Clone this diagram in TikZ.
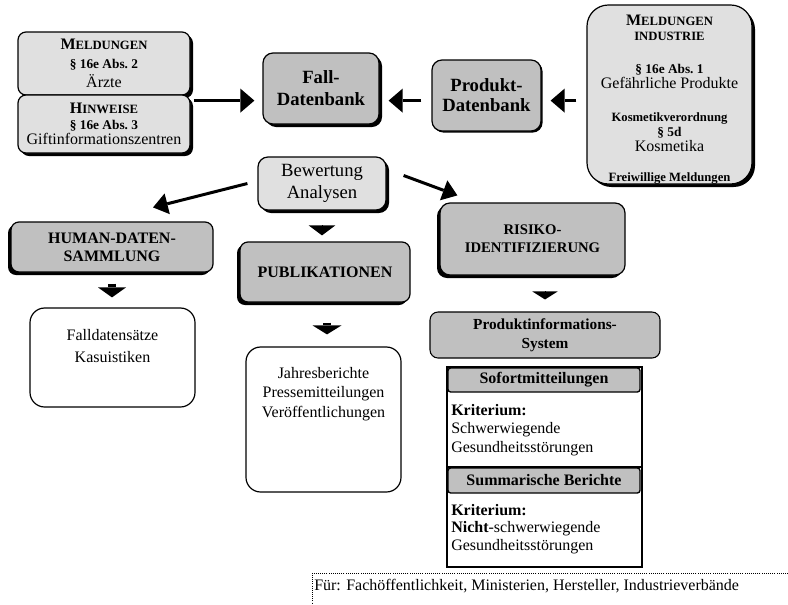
\documentclass[tikz,border=0pt]{standalone}
\usepackage{fontspec}
\setmainfont{Liberation Serif}
\usetikzlibrary{arrows.meta,shadows,calc}
\definecolor{lightg}{HTML}{E0E0E0}
\definecolor{darkg}{HTML}{C0C0C0}
\begin{document}
\begin{tikzpicture}[x=0.75pt,y=-0.75pt,
  box/.style={draw, line width=0.9pt, rounded corners=6pt, inner sep=0pt, align=center},
  lightbox/.style={box, fill=lightg},
  darkbox/.style={box, fill=darkg},
  whitebox/.style={box, fill=white, rounded corners=11pt},
  shR/.style={drop shadow={shadow xshift=2.25pt, shadow yshift=-2.25pt, fill=black, opacity=1}},
  shL/.style={drop shadow={shadow xshift=-2.25pt, shadow yshift=-2.25pt, fill=black, opacity=1}},
  hdr/.style={draw, line width=1pt, rounded corners=2pt, fill=darkg, inner sep=0pt,
    minimum width=144pt, font=\fontsize{12}{14}\selectfont\bfseries},
  txt/.style={inner sep=0pt, align=center},
  bigarrow/.style={line width=2.5pt, -{Triangle[length=10.5pt,width=18pt,line width=0pt]}},
  diagarrow/.style={line width=2.25pt, -{Triangle[length=11pt,width=16pt,line width=0pt]}}
]
\useasboundingbox (0,0) rectangle (788,604);

% left sources
\node[lightbox, shR, minimum width=129pt, minimum height=47.25pt,
  font=\fontsize{12}{14}\selectfont] (meld) at (104,63.5)
  {\textbf{M{\fontsize{9.5}{14}\selectfont ELDUNGEN}}\\
   {\bfseries\fontsize{10}{14}\selectfont \S~16e Abs.~2}\\
   Ärzte};
\node[lightbox, shR, minimum width=129pt, minimum height=43.5pt,
  font=\fontsize{12}{11.75}\selectfont] (hinw) at (104,124)
  {\textbf{H{\fontsize{9.5}{11.75}\selectfont INWEISE}}\\
   {\bfseries\fontsize{10}{11.75}\selectfont \S~16e Abs.~3}\\
   Giftinformationszentren};

% databases
\node[darkbox, shR, rounded corners=7.5pt, minimum width=87pt, minimum height=53.25pt,
  font=\fontsize{14}{16.5}\selectfont\bfseries] (fall) at (321,88.5) {Fall-\\Datenbank};
\node[darkbox, drop shadow={shadow xshift=1.2pt, shadow yshift=-1.2pt, fill=black, opacity=1},
  rounded corners=7.5pt, minimum width=81.75pt, minimum height=53.25pt,
  font=\fontsize{14}{15}\selectfont\bfseries] (prod) at (486.5,95.5) {Produkt-\\Datenbank};

% industry box
\node[lightbox, shR, rounded corners=16pt, minimum width=123.75pt, minimum height=134.25pt]
  (indu) at (669.5,94.5) {};
\node[txt, anchor=north, font=\fontsize{12}{11.25}\selectfont] (indut) at (669.5,15)
  {\textbf{M{\fontsize{9.5}{11.25}\selectfont ELDUNGEN}}\\
   {\bfseries\fontsize{9.5}{11.25}\selectfont INDUSTRIE}\\[13.5pt]
   {\bfseries\fontsize{10}{11.25}\selectfont \S~16e Abs.~1}\\
   Gefährliche Produkte\\[13pt]
   {\bfseries\fontsize{9.5}{11.25}\selectfont Kosmetikverordnung}\\
   {\bfseries\fontsize{10}{11.25}\selectfont \S~5d}\\[0.5pt]
   Kosmetika\\[11pt]
   {\bfseries\fontsize{9.5}{11.25}\selectfont Freiwillige Meldungen}};

% evaluation
\node[lightbox, shR, rounded corners=7.5pt, minimum width=96pt, minimum height=39.75pt,
  font=\fontsize{14}{17}\selectfont] (bew) at (322,183.5) {Bewertung\\Analysen};

% outputs
\node[darkbox, shL, minimum width=151.5pt, minimum height=37.5pt,
  font=\fontsize{12}{13.5}\selectfont\bfseries] (hum) at (112,247) {HUMAN-DATEN-\\SAMMLUNG};
\node[whitebox, minimum width=123.75pt, minimum height=74.25pt] (fdat) at (112.5,357.5) {};
\node[txt, anchor=north, font=\fontsize{12}{16.5}\selectfont] (fdatt) at (112.5,329)
  {Falldatensätze\\Kasuistiken};

\node[darkbox, shL, minimum width=127.5pt, minimum height=45pt,
  font=\fontsize{12}{14}\selectfont\bfseries] (pub) at (325,272) {PUBLIKATIONEN};
\node[whitebox, minimum width=116.25pt, minimum height=108.75pt] (jahr) at (323.5,419.5) {};
\node[txt, anchor=north, font=\fontsize{12}{14.5}\selectfont] (jahrt) at (323.5,367)
  {Jahresberichte\\Pressemitteilungen\\Veröffentlichungen};

\node[darkbox, shL, rounded corners=7.5pt, minimum width=138.75pt, minimum height=54pt,
  font=\fontsize{11}{13.5}\selectfont\bfseries] (ris) at (532.5,239) {RISIKO-\\IDENTIFIZIERUNG};
\node[darkbox, line width=0.8pt, minimum width=172.5pt, minimum height=34.5pt,
  font=\fontsize{11.5}{14.25}\selectfont\bfseries] (pis) at (545,335)
  {Produktinformations-\\System};

% panel
\node[draw, line width=0.8pt, fill=white, inner sep=0pt, minimum width=146.25pt,
  minimum height=150pt] (panel) at (544.5,467) {};
\node[hdr, minimum height=18pt] (sof) at (544,380) {Sofortmitteilungen};
\node[txt, anchor=north west, align=left, font=\fontsize{12}{13.9}\selectfont] (k1) at (451,404)
  {\textbf{Kriterium:}\\Schwerwiegende\\Gesundheitsstörungen};
\draw[line width=0.8pt] (panel.west |- 0,467) coordinate (dl) -- (panel.east |- dl);
\node[hdr, minimum height=18.75pt] (summ) at (544,480.5) {Summarische Berichte};
\node[txt, anchor=north west, align=left, font=\fontsize{12}{13.2}\selectfont] (k2) at (451,504)
  {\textbf{Kriterium:}\\\textbf{Nicht}-schwerwiegende\\Gesundheitsstörungen};

% footer
\coordinate (fc) at (312,573);
\coordinate (fr) at (788,573);
\coordinate (fb) at (312,604);
\draw[densely dotted, line width=0.6pt] (fr) -- (fc) -- (fb);
\node[txt, anchor=west, font=\fontsize{12}{14}\selectfont] (foot) at (314,586)
  {Für: Fachöffentlichkeit, Ministerien, Hersteller, Industrieverbände};

% arrows
\coordinate (a1s) at ([xshift=2.25pt, yshift=-3.75pt]meld.south east);
\draw[bigarrow, shorten >=6pt] (a1s) -- (a1s -| fall.west);
\draw[bigarrow, shorten <=7.5pt, shorten >=6.75pt] (prod.west |- a1s) -- (fall.east |- a1s);
\draw[bigarrow, shorten <=7.5pt, shorten >=6.75pt] (indu.west |- a1s) -- (prod.east |- a1s);

\draw[diagarrow] ([xshift=-7.5pt]bew.west) -- ([xshift=30.75pt,yshift=10.5pt]hum.north);
\draw[diagarrow] ([xshift=12.75pt,yshift=6pt]bew.east) -- ([xshift=13.5pt,yshift=5.25pt]ris.north west);

\draw[line width=0.4pt, -{Triangle[length=7.5pt,width=20pt,line width=0pt]},
  shorten <=12pt, shorten >=4.5pt] (bew.south) -- (bew.south |- pub.north);
\draw[line width=6pt, -{Triangle[length=7.5pt,width=21pt,line width=0pt]},
  shorten <=8.25pt, shorten >=7.5pt] (hum.south) -- (hum.south |- fdat.north);
\draw[line width=6pt, -{Triangle[length=6.75pt,width=21.75pt,line width=0pt]},
  shorten <=15pt, shorten >=9pt] ([xshift=1.5pt]pub.south) -- ([xshift=1.5pt]pub.south |- jahr.north);
\draw[line width=0.4pt, -{Triangle[length=6pt,width=19pt,line width=0pt]},
  shorten <=12.75pt, shorten >=9pt] (ris.south -| pis.north) -- (pis.north);
\end{tikzpicture}
\end{document}
